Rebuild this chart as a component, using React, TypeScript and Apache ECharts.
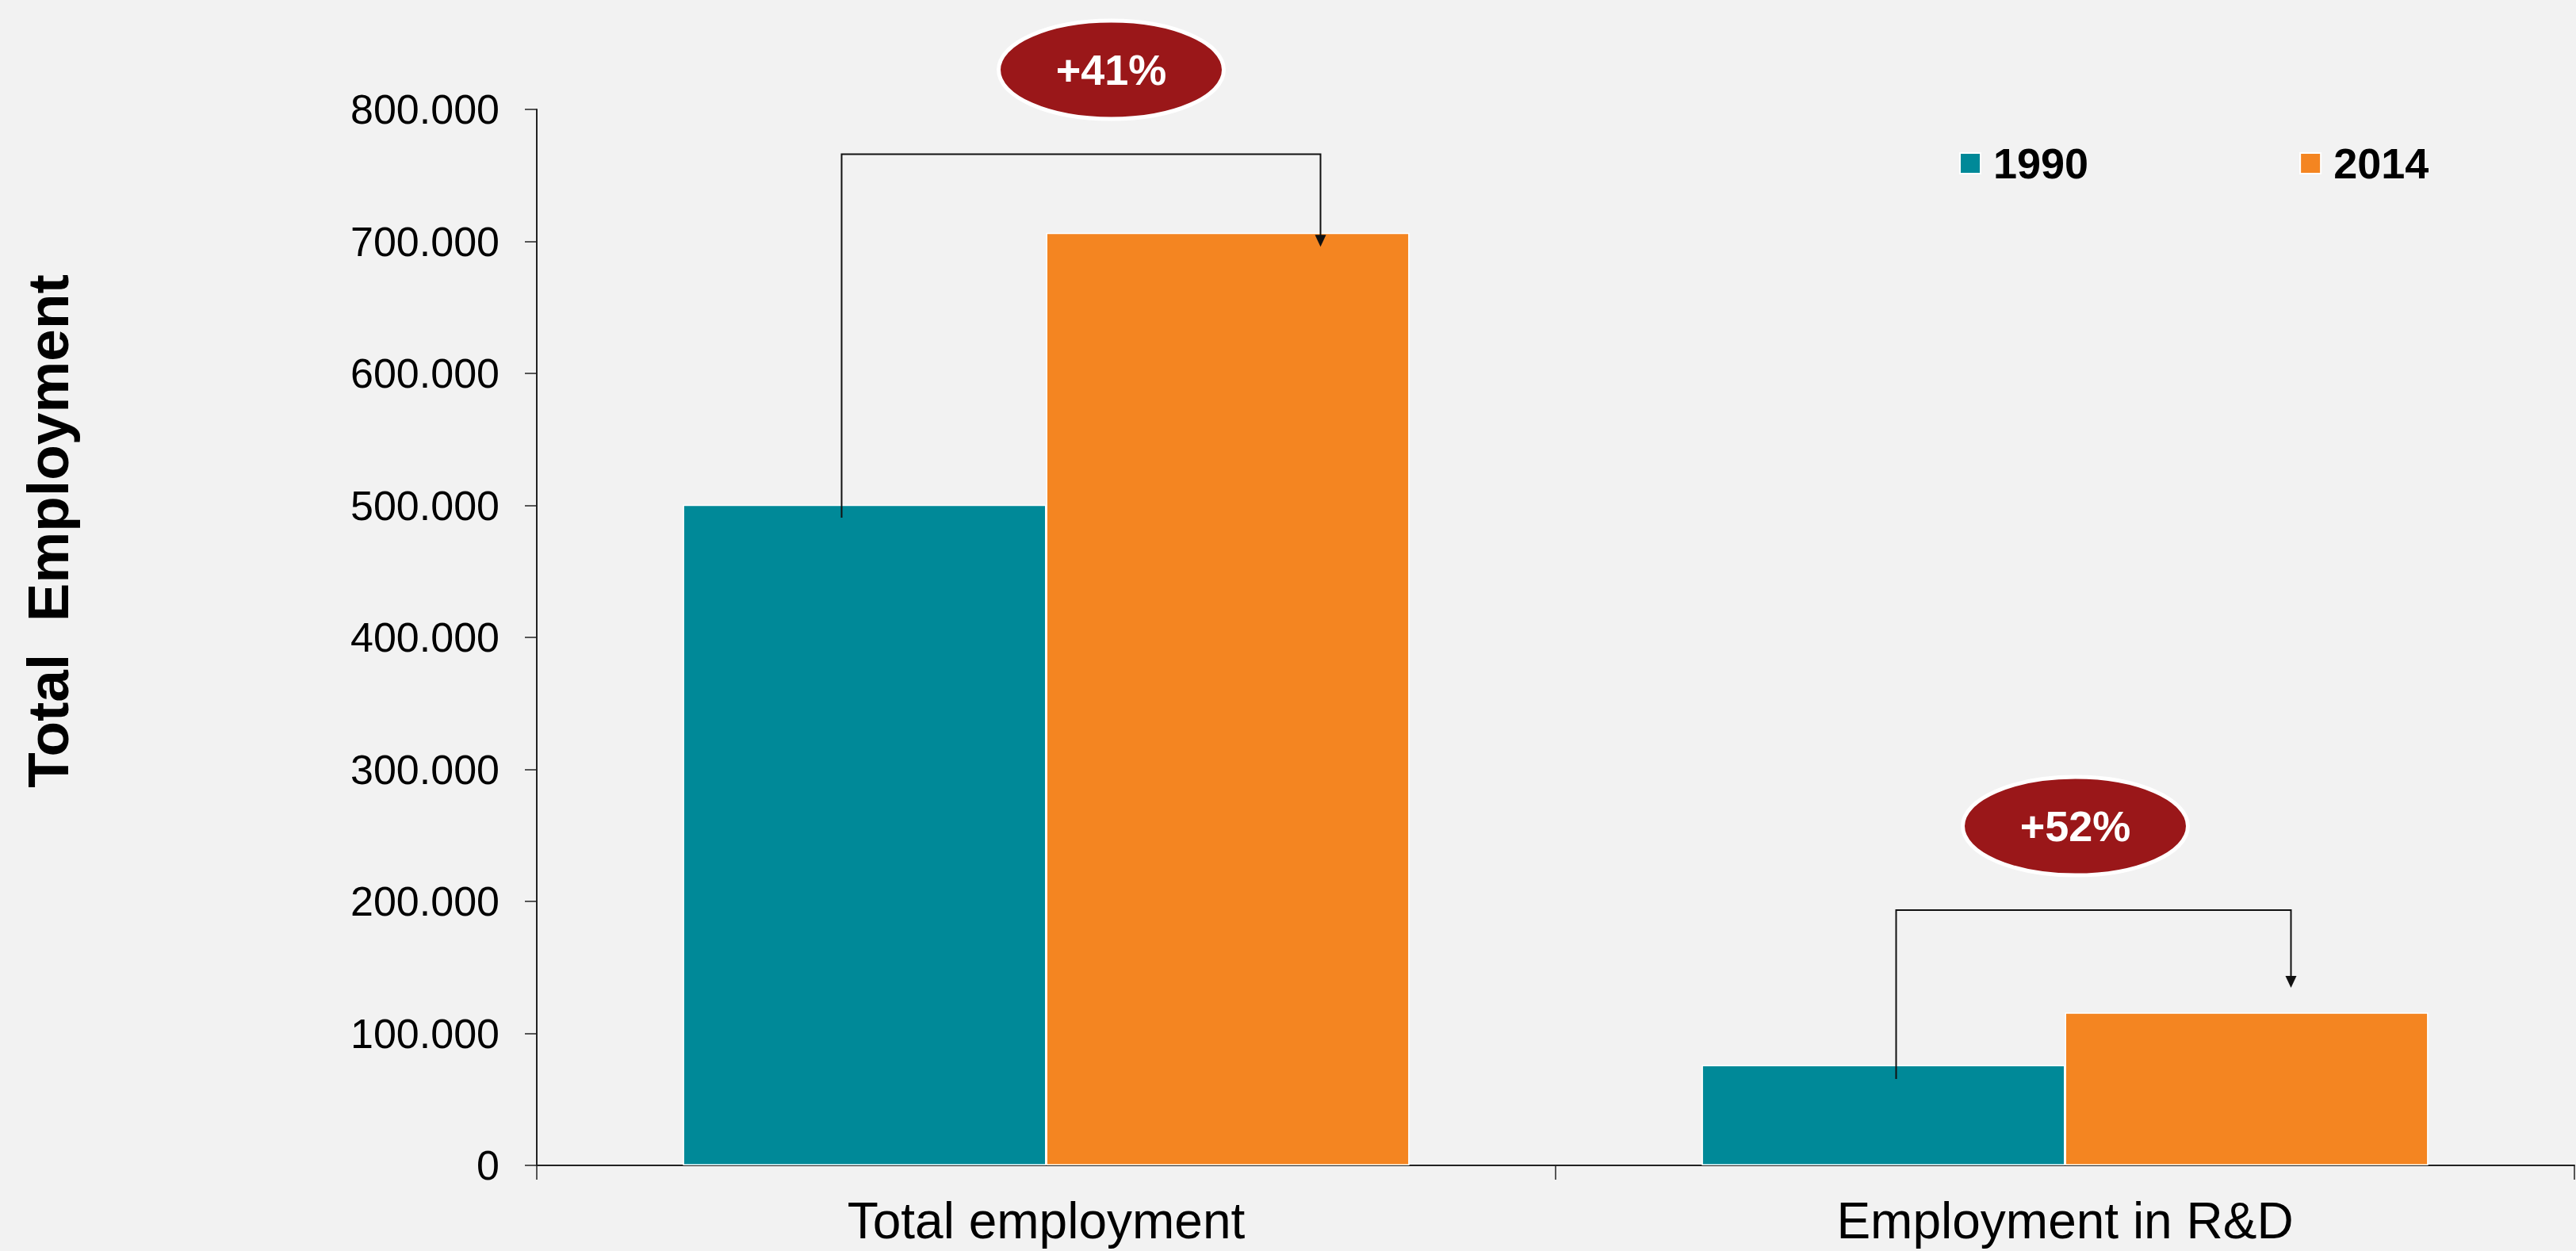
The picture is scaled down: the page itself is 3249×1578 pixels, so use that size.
import React, { useEffect, useRef } from "react";
import * as echarts from "echarts";

const categories = ["Total employment", "Employment in R&D"];
const years = ["1990", "2014"];
const values1990 = [500500, 76000];
const values2014 = [706500, 115800];
const changeLabels = ["+41%", "+52%"];
const yTicks = { min: 0, max: 800000, interval: 100000 };
const yAxisTitle = "Total  Employment";

// annotation anchors (data units for heights, pixel offsets from category centre)
const annotationLayout = [
  { bracketTop: 766000, leftBottom: 490700, arrowTip: 696000, badge: 830000, leftDx: -258, rightDx: 346, badgeDx: 82 },
  { bracketTop: 193400, leftBottom: 65500, arrowTip: 134500, badge: 257000, leftDx: -213, rightDx: 285, badgeDx: 13 },
];

const FONT = "'Liberation Sans', Arial, Helvetica, sans-serif";
const TEAL = "#008998";
const ORANGE = "#F48521";
const BADGE = "#9A1719";

function fmt(v: number): string {
  if (v === 0) return "0";
  const k = Math.round(v / 1000);
  return k + ".000";
}

export default function App() {
  const ref = useRef<HTMLDivElement>(null);
  useEffect(() => {
    document.body.style.margin = "0";
    const chart = echarts.init(ref.current!, null, { renderer: "svg" });
    chart.setOption({
      animation: false,
      backgroundColor: "#F2F2F2",
      grid: { left: 677, right: 2, top: 138, bottom: 108, containLabel: false },
      legend: {
        data: years,
        left: 2466,
        top: 174,
        icon: "rect",
        itemWidth: 26,
        itemHeight: 26,
        itemGap: 266,
        textStyle: { fontFamily: FONT, fontSize: 54, fontWeight: "bold", color: "#000", padding: [0, 0, 0, 11] },
      },
      xAxis: {
        type: "category",
        data: categories,
        axisLine: { lineStyle: { color: "#222", width: 2 } },
        axisTick: { show: true, length: 18, lineStyle: { color: "#222", width: 1.5 } },
        axisLabel: { fontFamily: FONT, fontSize: 64, color: "#000", margin: 38 },
      },
      yAxis: {
        type: "value",
        min: yTicks.min,
        max: yTicks.max,
        interval: yTicks.interval,
        splitLine: { show: false },
        axisLine: { show: true, lineStyle: { color: "#222", width: 2 } },
        axisTick: { show: true, length: 15, lineStyle: { color: "#222", width: 1.5 } },
        axisLabel: { fontFamily: FONT, fontSize: 52, color: "#000", margin: 47, formatter: fmt },
      },
      series: [
        {
          name: years[0],
          type: "bar",
          data: values1990,
          barGap: "0%",
          barCategoryGap: "28.7%",
          itemStyle: { color: TEAL, borderColor: "#fff", borderWidth: 1.5 },
        },
        {
          name: years[1],
          type: "bar",
          data: values2014,
          barGap: "0%",
          barCategoryGap: "28.7%",
          itemStyle: { color: ORANGE, borderColor: "#fff", borderWidth: 1.5 },
        },
      ],
    });

    const graphics: any[] = [
      {
        type: "text",
        x: 60,
        y: 670,
        rotation: Math.PI / 2,
        style: {
          text: yAxisTitle,
          fill: "#000",
          fontFamily: FONT,
          fontSize: 73,
          fontWeight: "bold",
          align: "center",
          verticalAlign: "middle",
        },
      },
    ];
    categories.forEach((cat, i) => {
      const a = annotationLayout[i];
      const p = chart.convertToPixel({ xAxisIndex: 0, yAxisIndex: 0 }, [cat, 0]) as number[];
      const cx = p[0];
      const yOf = (v: number) => chart.convertToPixel({ yAxisIndex: 0 }, v) as number;
      const xl = cx + a.leftDx;
      const xr = cx + a.rightDx;
      const yTop = yOf(a.bracketTop);
      const yLeft = yOf(a.leftBottom);
      const yTip = yOf(a.arrowTip);
      graphics.push({
        type: "polyline",
        z: 10,
        shape: { points: [[xl, yLeft], [xl, yTop], [xr, yTop], [xr, yTip - 12]] },
        style: { stroke: "#111", lineWidth: 2, fill: null },
      });
      graphics.push({
        type: "polygon",
        z: 10,
        shape: { points: [[xr - 7, yTip - 15], [xr + 7, yTip - 15], [xr, yTip]] },
        style: { fill: "#111" },
      });
      const ex = cx + a.badgeDx;
      const ey = yOf(a.badge);
      graphics.push({
        type: "ellipse",
        z: 10,
        shape: { cx: ex, cy: ey, rx: 142, ry: 62 },
        style: { fill: BADGE, stroke: "#fff", lineWidth: 5 },
      });
      graphics.push({
        type: "text",
        z: 11,
        x: ex,
        y: ey,
        style: {
          text: changeLabels[i],
          fill: "#fff",
          fontFamily: FONT,
          fontSize: 54,
          fontWeight: "bold",
          align: "center",
          verticalAlign: "middle",
        },
      });
    });
    chart.setOption({ graphic: graphics });

    return () => chart.dispose();
  }, []);
  return <div ref={ref} style={{ width: 3249, height: 1578 }} />;
}
